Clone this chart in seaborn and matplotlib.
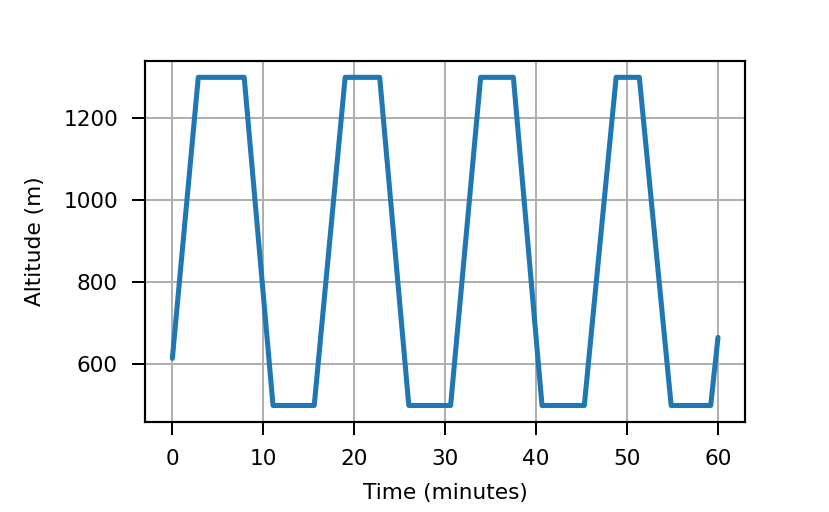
import numpy as np
import pandas as pd
import matplotlib
matplotlib.use("Agg")
import matplotlib.pyplot as plt
import seaborn as sns

# breakpoints of the altitude profile
time_min = [0, 2.85, 7.9, 11.07, 15.6, 19.0, 22.8, 26.0, 30.6, 33.9, 37.5, 40.65, 45.3, 48.8, 51.35, 54.85, 59.2, 60]
altitude_m = [615, 1300, 1300, 500, 500, 1300, 1300, 500, 500, 1300, 1300, 500, 500, 1300, 1300, 500, 500, 666]

df = pd.DataFrame({"Time (minutes)": time_min, "Altitude (m)": altitude_m})

sns.set_style("ticks", {
    "axes.edgecolor": "black",
    "axes.labelcolor": "black",
    "text.color": "black",
    "axes.grid": True,
    "grid.color": "#b0b0b0",
    "xtick.color": "black",
    "ytick.color": "black",
})
plt.rcParams["font.family"] = ["DejaVu Sans"]
plt.rcParams["font.size"] = 12

fig = plt.figure(figsize=(829 / 130, 512 / 130), dpi=130)
ax = fig.add_axes([0.175, 0.176, 0.724, 0.705])
sns.lineplot(data=df, x="Time (minutes)", y="Altitude (m)", ax=ax,
             color="#1f77b4", linewidth=2.8)

ax.grid(True, color="#b0b0b0", linewidth=1.1)
ax.set_xticks([0, 10, 20, 30, 40, 50, 60])
ax.set_yticks([600, 800, 1000, 1200])
ax.tick_params(length=7, width=1.1, pad=8, labelsize=12)
ax.set_xlabel("Time (minutes)", fontsize=12, labelpad=8)
ax.set_ylabel("Altitude (m)", fontsize=12, labelpad=10)
for s in ax.spines.values():
    s.set_linewidth(1.2)
    s.set_color("black")

fig.savefig("out.png", dpi=130)
